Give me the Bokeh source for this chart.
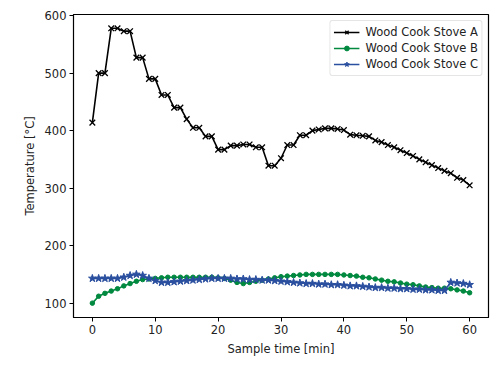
from bokeh.plotting import figure
from bokeh.models import Range1d, FixedTicker, ColumnDataSource, Legend, LegendItem
from bokeh.embed import file_html
from bokeh.resources import INLINE

minutes = list(range(0, 61))

stove_a = [414, 500, 500, 578, 578, 573, 573, 527, 527, 490, 490, 462, 462, 440, 440,
           420, 405, 405, 390, 390, 367, 367, 374, 374, 376, 376, 371, 371, 339, 339,
           352, 375, 375, 392, 392, 400, 402, 404, 404, 403, 401, 393, 392, 391, 390,
           383, 380, 375, 371, 366, 361, 356, 350, 345, 340, 335, 330, 326, 318, 314, 305]

stove_b = [100, 112, 117, 121, 125, 130, 134, 138, 141, 142, 143, 144, 145, 145, 145,
           145, 145, 145, 145, 145, 144, 143, 140, 136, 134, 136, 138, 140, 142, 144,
           146, 147, 148, 149, 150, 150, 150, 150, 150, 150, 149, 148, 147, 145, 144,
           142, 140, 138, 137, 135, 133, 132, 130, 128, 127, 126, 126, 125, 123, 121, 118]

stove_c = [143, 143, 143, 143, 143, 145, 148, 150, 148, 143, 139, 136, 136, 137, 138,
           139, 140, 141, 142, 143, 143, 143, 143, 142, 142, 141, 141, 140, 140, 139,
           138, 137, 136, 135, 134, 134, 133, 133, 132, 132, 131, 130, 130, 129, 128,
           127, 127, 126, 126, 125, 125, 124, 124, 123, 123, 122, 122, 136, 135, 134, 132]

x_ticks = [0, 10, 20, 30, 40, 50, 60]
y_ticks = [100, 200, 300, 400, 500, 600]
labels = ["Wood Cook Stove A", "Wood Cook Stove B", "Wood Cook Stove C"]
colors = ["#000000", "#00893f", "#2a4f9f"]

FONT = "DejaVu Sans"

p = figure(width=496, height=358, output_backend="svg", toolbar_location=None,
           x_range=Range1d(-3, 63), y_range=Range1d(75, 602),
           min_border_left=73, min_border_right=8, min_border_top=14, min_border_bottom=37)

src = ColumnDataSource(dict(x=minutes, a=stove_a, b=stove_b, c=stove_c))

la = p.line("x", "a", source=src, color=colors[0], line_width=1.6)
ma = p.scatter("x", "a", source=src, marker="x", size=8, line_color=colors[0], line_width=1.3)
lb = p.line("x", "b", source=src, color=colors[1], line_width=1.6)
mb = p.scatter("x", "b", source=src, marker="circle", size=4.5, fill_color=colors[1], line_color=colors[1])
lc = p.line("x", "c", source=src, color=colors[2], line_width=1.6)
mc = p.scatter("x", "c", source=src, marker="star", size=8, fill_color=colors[2], line_color=colors[2])

p.xgrid.visible = False
p.ygrid.visible = False
p.outline_line_color = "#000000"
p.outline_line_width = 1.2

p.xaxis.ticker = FixedTicker(ticks=x_ticks)
p.yaxis.ticker = FixedTicker(ticks=y_ticks)
for ax in (p.xaxis[0], p.yaxis[0]):
    ax.axis_line_color = "#000000"
    ax.major_tick_line_color = "#000000"
    ax.minor_tick_line_color = None
    ax.major_tick_out = 4
    ax.major_tick_in = 0
    ax.major_label_standoff = 3
    ax.major_label_text_font = FONT
    ax.major_label_text_font_size = "11.5px"
    ax.major_label_text_color = "#222222"
    ax.axis_label_text_font = FONT
    ax.axis_label_text_font_size = "11.5px"
    ax.axis_label_text_font_style = "normal"
    ax.axis_label_text_color = "#222222"
    ax.axis_label_standoff = 5

p.xaxis.axis_label = "Sample time [min]"
p.yaxis.axis_label = "Temperature [°C]"

legend = Legend(items=[
    LegendItem(label=labels[0], renderers=[la, ma]),
    LegendItem(label=labels[1], renderers=[lb, mb]),
    LegendItem(label=labels[2], renderers=[lc, mc]),
], location="top_right")
legend.label_text_font = FONT
legend.label_text_font_size = "11.5px"
legend.label_text_color = "#222222"
legend.border_line_color = "#cccccc"
legend.border_line_width = 1
legend.border_radius = 3
legend.margin = 6
legend.padding = 3
legend.spacing = 0
legend.label_height = 16
legend.glyph_height = 12
legend.glyph_width = 26
legend.label_standoff = 6
legend.background_fill_alpha = 0.9
p.add_layout(legend)

open("out.html", "w").write(file_html(p, INLINE))
